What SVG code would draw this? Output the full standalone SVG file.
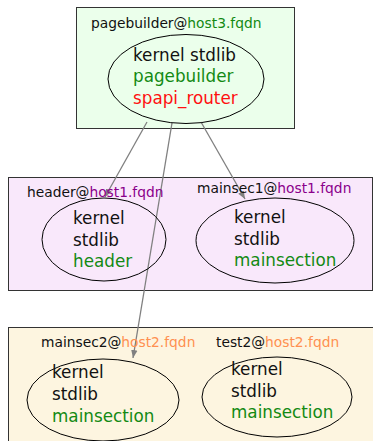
<svg xmlns="http://www.w3.org/2000/svg" width="373" height="441" viewBox="0 0 373 441">
<defs>
<style>
text{font-family:"DejaVu Sans",sans-serif;fill:#111}
.lbl{font-size:13.8px}
.mod{font-size:16.8px}
.cl{stroke:#333;stroke-width:1}
.el{fill:none;stroke:#000;stroke-width:1}
.g{fill:#138a13}
.r{fill:#ff1010}
.p{fill:#8b008b}
.o{fill:#ff9050}
.edge{stroke:#808080;stroke-width:1.3;fill:none;marker-end:url(#ah)}
</style>
<marker id="ah" viewBox="0 0 10 10" refX="10" refY="5" markerWidth="8" markerHeight="8" markerUnits="userSpaceOnUse" orient="auto">
<path d="M0,1 L10,5 L0,9 z" fill="#808080"/>
</marker>
</defs>
<g id="cluster-host3">
<rect class="cl" x="76.5" y="7.5" width="218" height="121" fill="#ebffeb"/>
</g>
<g id="cluster-host1">
<rect class="cl" x="8.5" y="177.5" width="364" height="113" fill="#f9e8fb"/>
</g>
<g id="cluster-host2">
<rect class="cl" x="8.5" y="327.5" width="370" height="120" fill="#fdf5e0"/>
</g>
<g id="connectors">
<line class="edge" x1="147" y1="122" x2="105" y2="197"/>
<line class="edge" x1="172" y1="123" x2="133" y2="358"/>
<line class="edge" x1="201" y1="122" x2="245" y2="199"/>
</g>
<g id="pagebuilder">
<text class="lbl" x="91" y="28">pagebuilder@<tspan class="g">host3.fqdn</tspan></text>
<ellipse class="el" cx="186" cy="79" rx="78" ry="44.5"/>
<text class="mod" x="133" y="61">kernel stdlib</text>
<text class="mod g" x="133" y="82">pagebuilder</text>
<text class="mod r" x="133" y="104">spapi_router</text>
</g>
<g id="header">
<text class="lbl" x="27" y="197">header@<tspan class="p">host1.fqdn</tspan></text>
<ellipse class="el" cx="104" cy="239.5" rx="62" ry="41.5"/>
<text class="mod" x="73" y="224">kernel</text>
<text class="mod" x="73" y="246">stdlib</text>
<text class="mod g" x="73" y="267">header</text>
</g>
<g id="mainsec1">
<text class="lbl" x="197" y="193">mainsec1@<tspan class="p">host1.fqdn</tspan></text>
<ellipse class="el" cx="275" cy="240.5" rx="79" ry="42.5"/>
<text class="mod" x="234" y="223">kernel</text>
<text class="mod" x="234" y="245">stdlib</text>
<text class="mod g" x="234" y="266">mainsection</text>
</g>
<g id="mainsec2">
<text class="lbl" x="41" y="347">mainsec2@<tspan class="o">host2.fqdn</tspan></text>
<ellipse class="el" cx="103" cy="400" rx="76" ry="41"/>
<text class="mod" x="52" y="378">kernel</text>
<text class="mod" x="52" y="400">stdlib</text>
<text class="mod g" x="52" y="422">mainsection</text>
</g>
<g id="test2">
<text class="lbl" x="216" y="347">test2@<tspan class="o">host2.fqdn</tspan></text>
<ellipse class="el" cx="277" cy="397" rx="75" ry="40"/>
<text class="mod" x="231" y="375">kernel</text>
<text class="mod" x="231" y="397">stdlib</text>
<text class="mod g" x="231" y="418">mainsection</text>
</g>
</svg>
